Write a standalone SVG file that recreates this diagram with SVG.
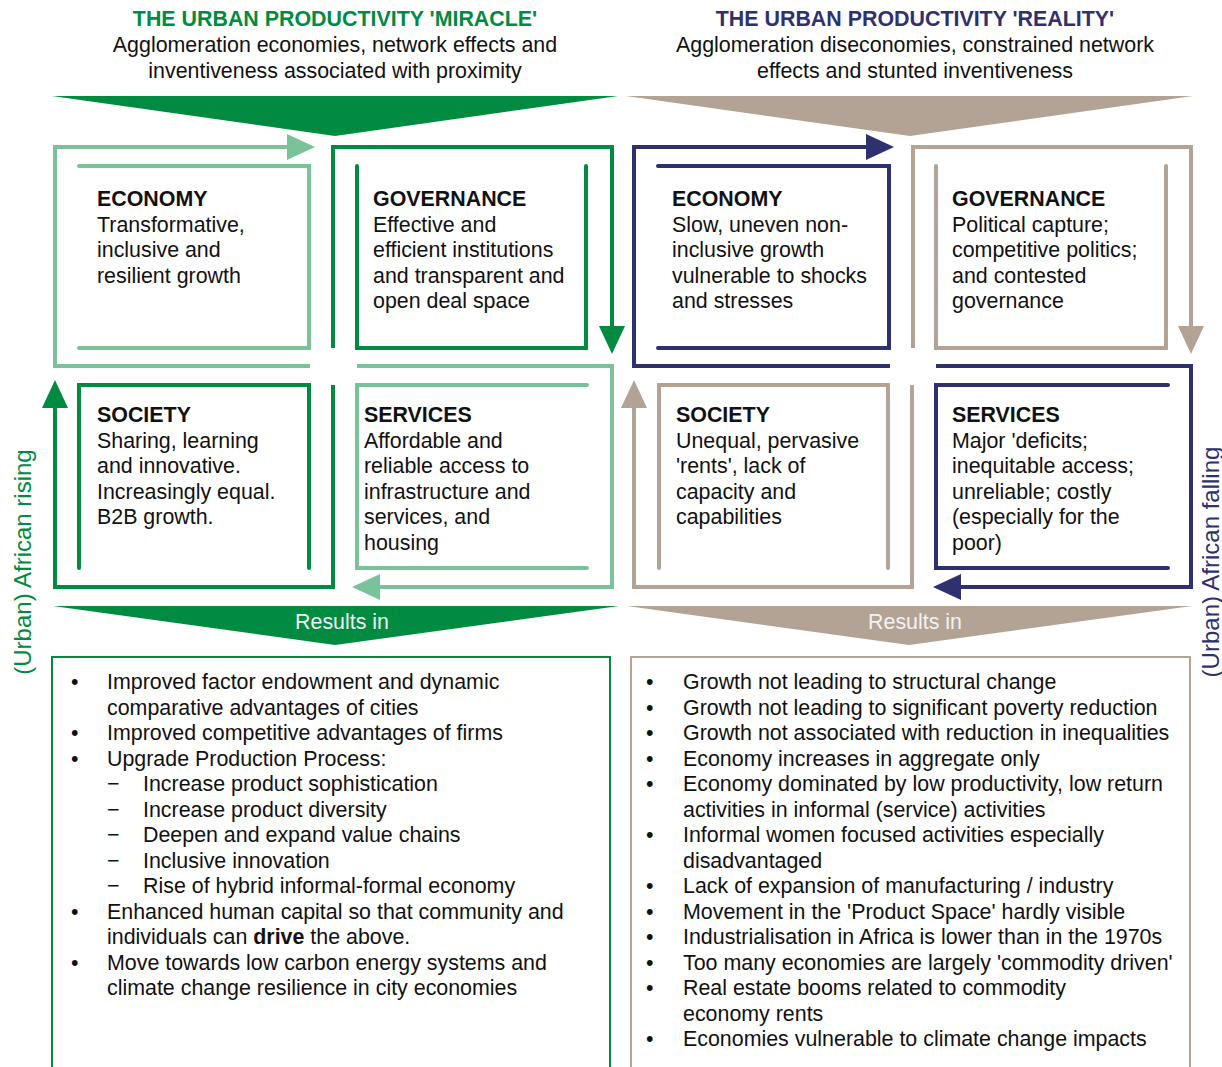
<svg xmlns="http://www.w3.org/2000/svg" width="1222" height="1067" viewBox="0 0 1222 1067">
<style>
text{font-family:"Liberation Sans",Arial,sans-serif;font-size:21.4px;fill:#111}
.b{font-weight:bold}
.mid{text-anchor:middle}
.ln{fill:none;stroke-width:4;stroke-linejoin:miter}
.in{fill:none;stroke-width:4;stroke-linecap:round;stroke-linejoin:miter}
.lg{stroke:#7AC29A}.dg{stroke:#008B41}.nv{stroke:#2E3070}.br{stroke:#B3A395}
.side{font-size:24px}
</style>
<defs>
<marker id="hLG" markerUnits="userSpaceOnUse" markerWidth="28" markerHeight="26" viewBox="0 0 28 26" refX="0" refY="13" orient="auto"><path d="M0,0 L28,13 L0,26 z" fill="#7AC29A"/></marker>
<marker id="hDG" markerUnits="userSpaceOnUse" markerWidth="28" markerHeight="26" viewBox="0 0 28 26" refX="0" refY="13" orient="auto"><path d="M0,0 L28,13 L0,26 z" fill="#008B41"/></marker>
<marker id="hNV" markerUnits="userSpaceOnUse" markerWidth="28" markerHeight="26" viewBox="0 0 28 26" refX="0" refY="13" orient="auto"><path d="M0,0 L28,13 L0,26 z" fill="#2E3070"/></marker>
<marker id="hBR" markerUnits="userSpaceOnUse" markerWidth="28" markerHeight="26" viewBox="0 0 28 26" refX="0" refY="13" orient="auto"><path d="M0,0 L28,13 L0,26 z" fill="#B3A395"/></marker>
</defs>
<rect width="1222" height="1067" fill="#fff"/>

<g id="header-miracle">
<text class="b mid" x="335" y="26" style="fill:#008B41">THE URBAN PRODUCTIVITY 'MIRACLE'</text>
<text class="mid" x="335" y="52">Agglomeration economies, network effects and</text>
<text class="mid" x="335" y="78">inventiveness associated with proximity</text>
<polygon points="52,96 618,96 335,136" fill="#008B41"/>
</g>
<g id="header-reality">
<text class="b mid" x="915" y="26" style="fill:#2E3070">THE URBAN PRODUCTIVITY 'REALITY'</text>
<text class="mid" x="915" y="52">Agglomeration diseconomies, constrained network</text>
<text class="mid" x="915" y="78">effects and stunted inventiveness</text>
<polygon points="626,96 1193,96 910,136" fill="#B3A395"/>
</g>

<g id="connectors">
<path class="ln lg" d="M310,366 H55 V147 H287" marker-end="url(#hLG)"/>
<path class="ln dg" d="M333,348 V147 H612 V326" marker-end="url(#hDG)"/>
<path class="ln lg" d="M357,366 H612 V587 H380" marker-end="url(#hLG)"/>
<path class="ln dg" d="M333,385 V587 H55 V408" marker-end="url(#hDG)"/>
<path class="ln nv" d="M890,366 H634 V147 H866" marker-end="url(#hNV)"/>
<path class="ln br" d="M913,348 V147 H1191 V326" marker-end="url(#hBR)"/>
<path class="ln nv" d="M936,366 H1191 V587 H961" marker-end="url(#hNV)"/>
<path class="ln br" d="M912,385 V587 H634 V408" marker-end="url(#hBR)"/>
</g>

<g id="miracle-economy">
<path class="in lg" d="M79,166 H309 V348 H79"/>
<text x="97" y="206"><tspan class="b">ECONOMY</tspan><tspan x="97" dy="25.5">Transformative,</tspan><tspan x="97" dy="25.5">inclusive and</tspan><tspan x="97" dy="25.5">resilient growth</tspan></text>
</g>
<g id="miracle-governance">
<path class="in dg" d="M357,166 V348 H586 V166"/>
<text x="373" y="206"><tspan class="b">GOVERNANCE</tspan><tspan x="373" dy="25.5">Effective and</tspan><tspan x="373" dy="25.5">efficient institutions</tspan><tspan x="373" dy="25.5">and transparent and</tspan><tspan x="373" dy="25.5">open deal space</tspan></text>
</g>
<g id="miracle-society">
<path class="in dg" d="M79,568 V385 H309 V568"/>
<text x="97" y="422"><tspan class="b">SOCIETY</tspan><tspan x="97" dy="25.5">Sharing, learning</tspan><tspan x="97" dy="25.5">and innovative.</tspan><tspan x="97" dy="25.5">Increasingly equal.</tspan><tspan x="97" dy="25.5">B2B growth.</tspan></text>
</g>
<g id="miracle-services">
<path class="in lg" d="M587,385 H357 V568 H587"/>
<text x="364" y="422"><tspan class="b">SERVICES</tspan><tspan x="364" dy="25.5">Affordable and</tspan><tspan x="364" dy="25.5">reliable access to</tspan><tspan x="364" dy="25.5">infrastructure and</tspan><tspan x="364" dy="25.5">services, and</tspan><tspan x="364" dy="25.5">housing</tspan></text>
</g>

<g id="reality-economy">
<path class="in nv" d="M658,166 H889 V348 H658"/>
<text x="672" y="206"><tspan class="b">ECONOMY</tspan><tspan x="672" dy="25.5">Slow, uneven non-</tspan><tspan x="672" dy="25.5">inclusive growth</tspan><tspan x="672" dy="25.5">vulnerable to shocks</tspan><tspan x="672" dy="25.5">and stresses</tspan></text>
</g>
<g id="reality-governance">
<path class="in br" d="M936,166 V348 H1166 V166"/>
<text x="952" y="206"><tspan class="b">GOVERNANCE</tspan><tspan x="952" dy="25.5">Political capture;</tspan><tspan x="952" dy="25.5">competitive politics;</tspan><tspan x="952" dy="25.5">and contested</tspan><tspan x="952" dy="25.5">governance</tspan></text>
</g>
<g id="reality-society">
<path class="in br" d="M659,568 V385 H888 V568"/>
<text x="676" y="422"><tspan class="b">SOCIETY</tspan><tspan x="676" dy="25.5">Unequal, pervasive</tspan><tspan x="676" dy="25.5">'rents', lack of</tspan><tspan x="676" dy="25.5">capacity and</tspan><tspan x="676" dy="25.5">capabilities</tspan></text>
</g>
<g id="reality-services">
<path class="in nv" d="M1168,385 H936 V568 H1168"/>
<text x="952" y="422"><tspan class="b">SERVICES</tspan><tspan x="952" dy="25.5">Major 'deficits;</tspan><tspan x="952" dy="25.5">inequitable access;</tspan><tspan x="952" dy="25.5">unreliable; costly</tspan><tspan x="952" dy="25.5">(especially for the</tspan><tspan x="952" dy="25.5">poor)</tspan></text>
</g>

<g id="side-rising">
<text class="side mid" transform="translate(31,562) rotate(-90)" style="fill:#008B41">(Urban) African rising</text>
</g>
<g id="side-falling">
<text class="side mid" transform="translate(1219,562) rotate(-90)" style="fill:#2E3070">(Urban) African falling</text>
</g>

<g id="results-miracle">
<polygon points="53,606 619,606 335,645" fill="#008B41"/>
<text class="mid" x="342" y="629" style="fill:#F2F2F2">Results in</text>
<rect x="52" y="657" width="558" height="420" fill="none" stroke="#008B41" stroke-width="2"/>
<g>
<text x="71" y="689">•</text><text x="107" y="689">Improved factor endowment and dynamic</text>
<text x="107" y="714.5">comparative advantages of cities</text>
<text x="71" y="740">•</text><text x="107" y="740">Improved competitive advantages of firms</text>
<text x="71" y="765.5">•</text><text x="107" y="765.5">Upgrade Production Process:</text>
<text x="107" y="791">−</text><text x="143" y="791">Increase product sophistication</text>
<text x="107" y="816.5">−</text><text x="143" y="816.5">Increase product diversity</text>
<text x="107" y="842">−</text><text x="143" y="842">Deepen and expand value chains</text>
<text x="107" y="867.5">−</text><text x="143" y="867.5">Inclusive innovation</text>
<text x="107" y="893">−</text><text x="143" y="893">Rise of hybrid informal-formal economy</text>
<text x="71" y="918.5">•</text><text x="107" y="918.5">Enhanced human capital so that community and</text>
<text x="107" y="944">individuals can <tspan class="b">drive</tspan> the above.</text>
<text x="71" y="969.5">•</text><text x="107" y="969.5">Move towards low carbon energy systems and</text>
<text x="107" y="995">climate change resilience in city economies</text>
</g>
</g>

<g id="results-reality">
<polygon points="627,606 1192,606 909,645" fill="#B3A395"/>
<text class="mid" x="915" y="629" style="fill:#F2F2F2">Results in</text>
<rect x="631" y="657" width="559" height="420" fill="none" stroke="#B3A395" stroke-width="2"/>
<g>
<text x="646" y="689">•</text><text x="683" y="689">Growth not leading to structural change</text>
<text x="646" y="714.5">•</text><text x="683" y="714.5">Growth not leading to significant poverty reduction</text>
<text x="646" y="740">•</text><text x="683" y="740">Growth not associated with reduction in inequalities</text>
<text x="646" y="765.5">•</text><text x="683" y="765.5">Economy increases in aggregate only</text>
<text x="646" y="791">•</text><text x="683" y="791">Economy dominated by low productivity, low return</text>
<text x="683" y="816.5">activities in informal (service) activities</text>
<text x="646" y="842">•</text><text x="683" y="842">Informal women focused activities especially</text>
<text x="683" y="867.5">disadvantaged</text>
<text x="646" y="893">•</text><text x="683" y="893">Lack of expansion of manufacturing / industry</text>
<text x="646" y="918.5">•</text><text x="683" y="918.5">Movement in the 'Product Space' hardly visible</text>
<text x="646" y="944">•</text><text x="683" y="944">Industrialisation in Africa is lower than in the 1970s</text>
<text x="646" y="969.5">•</text><text x="683" y="969.5">Too many economies are largely 'commodity driven'</text>
<text x="646" y="995">•</text><text x="683" y="995">Real estate booms related to commodity</text>
<text x="683" y="1020.5">economy rents</text>
<text x="646" y="1046">•</text><text x="683" y="1046">Economies vulnerable to climate change impacts</text>
</g>
</g>
</svg>
